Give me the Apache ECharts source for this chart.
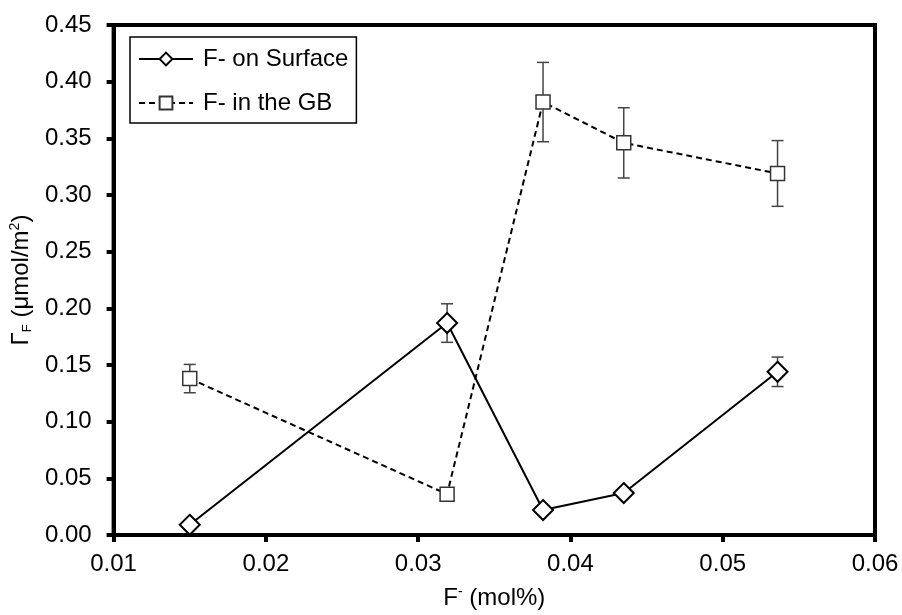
<!DOCTYPE html>
<html>
<head>
<meta charset="utf-8">
<script src="https://cdn.jsdelivr.net/npm/echarts@6/dist/echarts.min.js"></script>
<style>
  html, body { margin: 0; padding: 0; background: #fff; }
  #chart { width: 902px; height: 615px; }
</style>
</head>
<body>
<div id="chart"></div>
<script>
// Fluoride concentration (mol%)
const concentration = [0.0150, 0.0319, 0.0382, 0.0435, 0.0536];

// Surface excess of F- on the free surface, with standard error
const surfaceValues = [0.009, 0.187, 0.022, 0.037, 0.144];
const surfaceErrors = [0.000, 0.017, 0.000, 0.000, 0.013];

// Excess of F- at the grain boundaries, with standard error
const gbValues = [0.138, 0.036, 0.382, 0.346, 0.319];
const gbErrors = [0.0125, 0.000, 0.035, 0.031, 0.029];

const seriesNames = ['F- on Surface', 'F- in the GB'];
const xTicks = [0.01, 0.02, 0.03, 0.04, 0.05, 0.06];

const FONT = 'Liberation Sans, Arial, sans-serif';
const FS = 24;

function pairs(xs, ys) { return xs.map((x, i) => [x, ys[i]]); }
function errRows(xs, ys, es) { return xs.map((x, i) => [x, ys[i] - es[i], ys[i] + es[i]]); }

// Vertical error bar with short caps
function errorBarRenderer(params, api) {
  const x = api.value(0);
  const lo = api.coord([x, api.value(1)]);
  const hi = api.coord([x, api.value(2)]);
  if (Math.abs(lo[1] - hi[1]) < 1) return null;
  const half = 6;
  const style = { stroke: '#444', lineWidth: 1.5, fill: null };
  return {
    type: 'group',
    children: [
      { type: 'line', shape: { x1: lo[0], y1: lo[1], x2: hi[0], y2: hi[1] }, style },
      { type: 'line', shape: { x1: lo[0] - half, y1: lo[1], x2: lo[0] + half, y2: lo[1] }, style },
      { type: 'line', shape: { x1: hi[0] - half, y1: hi[1], x2: hi[0] + half, y2: hi[1] }, style }
    ]
  };
}

const chart = echarts.init(document.getElementById('chart'), null, { renderer: 'canvas' });

chart.setOption({
  backgroundColor: '#fff',
  animation: false,
  textStyle: { fontFamily: FONT },
  grid: {
    left: 113, right: 27, top: 25, bottom: 79,
    show: true, borderColor: '#000', borderWidth: 4, backgroundColor: 'transparent'
  },
  legend: {
    data: seriesNames,
    left: 130, top: 37,
    orient: 'vertical',
    itemWidth: 54, itemHeight: 16, itemGap: 20,
    padding: [10, 8, 8, 8],
    borderColor: '#000', borderWidth: 1.5,
    backgroundColor: '#fff',
    textStyle: { fontFamily: FONT, fontSize: FS, color: '#000', padding: [0, 0, 0, 5] }
  },
  xAxis: {
    type: 'value',
    min: 0.01, max: 0.06, interval: 0.01,
    name: '{f|F}{sup|-}{f| (mol%)}',
    nameLocation: 'middle', nameGap: 50,
    nameTextStyle: {
      rich: {
        f: { fontFamily: FONT, fontSize: FS, color: '#000' },
        sup: { fontFamily: FONT, fontSize: 14, color: '#000', verticalAlign: 'top', padding: [0, 0, 12, 0] }
      },
      fontFamily: FONT, fontSize: FS, color: '#000'
    },
    axisLine: { show: true, lineStyle: { color: '#000', width: 4 } },
    axisTick: { show: true, inside: false, length: 7, lineStyle: { color: '#000', width: 4 } },
    axisLabel: {
      fontFamily: FONT, fontSize: FS, color: '#000', margin: 17,
      formatter: v => xTicks.includes(+v.toFixed(2)) ? v.toFixed(2) : ''
    },
    splitLine: { show: false }
  },
  yAxis: {
    type: 'value',
    min: 0, max: 0.45, interval: 0.05,
    name: '{g|Γ}{sub|F}{u| (μmol/m}{sup|2}{u|)}',
    nameLocation: 'middle', nameGap: 76, nameRotate: 90,
    nameTextStyle: {
      rich: {
        g: { fontFamily: FONT, fontSize: FS, color: '#000' },
        u: { fontFamily: FONT, fontSize: FS, color: '#000' },
        sub: { fontFamily: FONT, fontSize: 13, color: '#000', verticalAlign: 'bottom', padding: [10, 0, 0, 0] },
        sup: { fontFamily: FONT, fontSize: 14, color: '#000', verticalAlign: 'top', padding: [0, 0, 12, 0] }
      }
    },
    axisLine: { show: true, lineStyle: { color: '#000', width: 4 } },
    axisTick: { show: true, inside: false, length: 7, lineStyle: { color: '#000', width: 4 } },
    axisLabel: {
      fontFamily: FONT, fontSize: FS, color: '#000', margin: 22,
      formatter: v => v.toFixed(2)
    },
    splitLine: { show: false }
  },
  series: [
    {
      name: seriesNames[0],
      type: 'line',
      data: pairs(concentration, surfaceValues),
      symbol: 'diamond', symbolSize: [20, 20],
      showAllSymbol: true,
      lineStyle: { color: '#000', width: 2, type: 'solid' },
      itemStyle: { color: '#fff', borderColor: '#000', borderWidth: 2 },
      z: 3
    },
    {
      name: seriesNames[1],
      type: 'line',
      data: pairs(concentration, gbValues),
      symbol: 'rect', symbolSize: [14, 14],
      showAllSymbol: true,
      lineStyle: { color: '#000', width: 2, type: [6, 4] },
      itemStyle: { color: '#fff', borderColor: '#333', borderWidth: 1.5 },
      z: 3
    },
    {
      type: 'custom',
      renderItem: errorBarRenderer,
      data: errRows(concentration, surfaceValues, surfaceErrors),
      encode: { x: 0, y: [1, 2] },
      z: 2, silent: true
    },
    {
      type: 'custom',
      renderItem: errorBarRenderer,
      data: errRows(concentration, gbValues, gbErrors),
      encode: { x: 0, y: [1, 2] },
      z: 2, silent: true
    }
  ]
});
</script>
</body>
</html>
